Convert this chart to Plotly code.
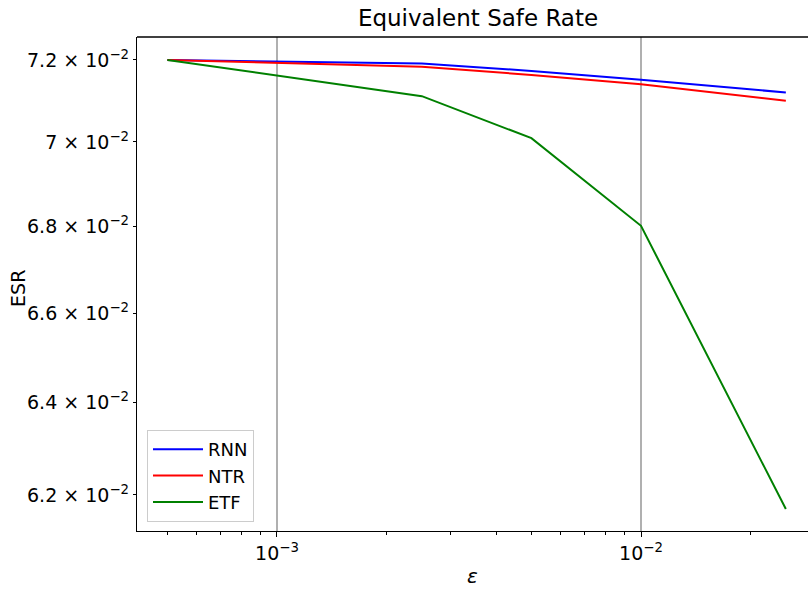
import plotly.graph_objects as go

eps = [5e-4, 2.5e-3, 5e-3, 1e-2, 2.5e-2]
rnn = [0.0720, 0.07191, 0.07173, 0.07151, 0.07120]
ntr = [0.0720, 0.07183, 0.07163, 0.07140, 0.07100]
etf = [0.0720, 0.07111, 0.07009, 0.06801, 0.06170]

series = [("RNN", rnn, "#0000ff"), ("NTR", ntr, "#ff0000"), ("ETF", etf, "#008000")]

ytick_vals = [0.062, 0.064, 0.066, 0.068, 0.070, 0.072]
ytick_text = ["6.2 × 10<sup>−2</sup>", "6.4 × 10<sup>−2</sup>", "6.6 × 10<sup>−2</sup>",
              "6.8 × 10<sup>−2</sup>", "7 × 10<sup>−2</sup>", "7.2 × 10<sup>−2</sup>"]
xtick_vals = [1e-3, 1e-2]
xtick_text = ["10<sup>−3</sup>", "10<sup>−2</sup>"]
xminor = [m * 10 ** e for e in (-4, -3, -2) for m in range(2, 10)]

font = "DejaVu Sans"
fig = go.Figure()
for name, vals, col in series:
    fig.add_trace(go.Scatter(x=eps, y=vals, mode="lines", name=name,
                             line=dict(color=col, width=2)))

fig.update_layout(
    width=808, height=590,
    margin=dict(l=137, r=0, t=37, b=59),
    plot_bgcolor="white", paper_bgcolor="white",
    font=dict(family=font, size=19, color="black"),
    title=dict(text="Equivalent Safe Rate", x=478 / 808, xanchor="center",
               y=1 - 18 / 590, yanchor="middle", font=dict(family=font, size=23)),
    showlegend=True,
    legend=dict(x=10 / 671, y=9 / 494, xanchor="left", yanchor="bottom",
                bgcolor="white", bordercolor="#cccccc", borderwidth=1,
                font=dict(family=font, size=18), itemwidth=50),
)
fig.update_xaxes(
    type="log", range=[-3.3846, -1.5412],
    showline=True, linecolor="black", linewidth=1.3,
    ticks="outside", ticklen=5, tickwidth=1.2, tickcolor="black",
    tickvals=xtick_vals, ticktext=xtick_text,
    showgrid=True, gridcolor="#b0b0b0", gridwidth=1.5,
    minor=dict(tickvals=xminor, ticks="outside", ticklen=3, tickwidth=1, tickcolor="black", showgrid=False),
    title=dict(text="<i>ε</i>", standoff=6, font=dict(family=font, size=20)),
    zeroline=False,
)
fig.update_yaxes(
    type="log", range=[-1.21299, -1.13924],
    showline=True, linecolor="black", linewidth=1.3,
    ticks="outside", ticklen=3, tickwidth=1, tickcolor="black",
    tickvals=ytick_vals, ticktext=ytick_text,
    showgrid=False,
    zeroline=False,
)
fig.add_annotation(text="ESR", xref="paper", yref="paper", x=-119 / 671, y=0.49,
                   xanchor="center", yanchor="middle", textangle=-90, showarrow=False,
                   font=dict(family=font, size=19))
fig.add_shape(type="line", xref="paper", yref="paper", x0=0, x1=1, y0=1, y1=1,
              line=dict(color="black", width=1.3))

fig.write_html("out.html")
